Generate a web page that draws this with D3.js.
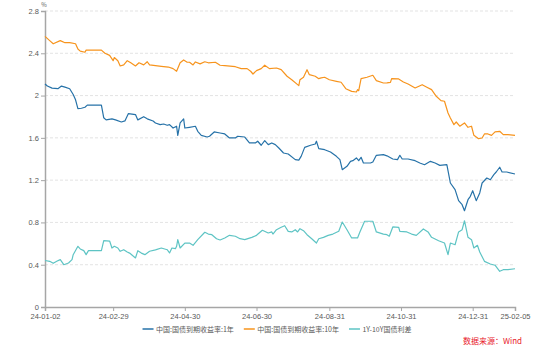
<!DOCTYPE html>
<html><head><meta charset="utf-8">
<script src="https://cdn.jsdelivr.net/npm/d3@7"></script>
<style>
html,body{margin:0;padding:0;background:#fff;}
svg{display:block;font-family:"Noto Sans CJK SC","Noto Sans",sans-serif;}
</style></head>
<body>
<svg id="c" width="550" height="346"></svg>
<script>
// ---- data ----
const seriesNames = ["中国:国债到期收益率:1年", "中国:国债到期收益率:10年", "1Y-10Y国债利差"];
const xTickLabels = ["2024-01-02","2024-02-29","2024-04-30","2024-06-30","2024-08-31","2024-10-31","2024-12-31","2025-02-05"];
const yTicks = [0, 0.4, 0.8, 1.2, 1.6, 2, 2.4, 2.8];

const yield1Y = [
["2024-01-02",2.11],["2024-01-04",2.09],["2024-01-08",2.07],["2024-01-13",2.065],["2024-01-16",2.09],
["2024-01-19",2.08],["2024-01-23",2.065],["2024-01-26",2.01],["2024-01-28",1.96],["2024-01-30",1.876],
["2024-02-02",1.88],["2024-02-05",1.89],["2024-02-07",1.91],["2024-02-19",1.91],["2024-02-21",1.79],
["2024-02-23",1.77],["2024-02-28",1.78],["2024-03-02",1.77],["2024-03-07",1.75],["2024-03-10",1.76],
["2024-03-13",1.83],["2024-03-19",1.82],["2024-03-21",1.77],["2024-03-26",1.80],["2024-03-29",1.78],
["2024-04-03",1.76],["2024-04-05",1.741],["2024-04-09",1.725],["2024-04-12",1.731],["2024-04-15",1.719],
["2024-04-17",1.725],["2024-04-20",1.693],["2024-04-23",1.71],["2024-04-24",1.624],["2024-04-26",1.741],
["2024-04-29",1.779],["2024-04-30",1.693],["2024-05-04",1.70],["2024-05-09",1.71],["2024-05-11",1.662],
["2024-05-14",1.624],["2024-05-19",1.608],["2024-05-21",1.615],["2024-05-25",1.656],["2024-05-30",1.646],
["2024-06-03",1.637],["2024-06-07",1.599],["2024-06-12",1.599],["2024-06-14",1.615],["2024-06-20",1.608],
["2024-06-24",1.552],["2024-06-29",1.552],["2024-07-01",1.568],["2024-07-04",1.53],["2024-07-07",1.573],
["2024-07-10",1.536],["2024-07-13",1.552],["2024-07-16",1.536],["2024-07-19",1.504],["2024-07-23",1.457],
["2024-07-27",1.447],["2024-08-02",1.394],["2024-08-05",1.39],["2024-08-07",1.425],["2024-08-10",1.51],
["2024-08-15",1.53],["2024-08-19",1.542],["2024-08-20",1.568],["2024-08-22",1.498],["2024-08-27",1.488],
["2024-09-01",1.466],["2024-09-06",1.425],["2024-09-09",1.394],["2024-09-11",1.299],["2024-09-15",1.331],
["2024-09-18",1.378],["2024-09-20",1.384],["2024-09-23",1.41],["2024-09-25",1.384],["2024-09-27",1.416],
["2024-09-29",1.362],["2024-10-05",1.362],["2024-10-07",1.372],["2024-10-10",1.435],["2024-10-16",1.441],
["2024-10-19",1.43],["2024-10-24",1.40],["2024-10-28",1.394],["2024-10-30",1.435],["2024-11-01",1.40],
["2024-11-06",1.40],["2024-11-12",1.384],["2024-11-16",1.362],["2024-11-20",1.346],["2024-11-25",1.378],
["2024-11-29",1.362],["2024-12-03",1.34],["2024-12-09",1.346],["2024-12-12",1.173],["2024-12-16",1.11],
["2024-12-19",1.006],["2024-12-22",0.968],["2024-12-24",0.911],["2024-12-27",1.015],["2024-12-29",1.047],
["2024-12-31",1.10],["2025-01-03",1.006],["2025-01-06",1.079],["2025-01-08",1.173],["2025-01-12",1.22],
["2025-01-15",1.204],["2025-01-18",1.252],["2025-01-20",1.277],["2025-01-23",1.322],["2025-01-25",1.277],
["2025-01-29",1.277],["2025-02-05",1.258]
];

const yield10Y = [
["2024-01-02",2.56],["2024-01-06",2.52],["2024-01-09",2.49],["2024-01-15",2.52],["2024-01-19",2.50],
["2024-01-23",2.50],["2024-01-28",2.49],["2024-01-30",2.44],["2024-02-01",2.42],["2024-02-05",2.41],
["2024-02-06",2.43],["2024-02-19",2.43],["2024-02-22",2.40],["2024-02-26",2.38],["2024-02-29",2.33],
["2024-03-01",2.36],["2024-03-04",2.33],["2024-03-06",2.28],["2024-03-09",2.29],["2024-03-12",2.33],
["2024-03-15",2.31],["2024-03-19",2.28],["2024-03-22",2.31],["2024-03-26",2.29],["2024-03-29",2.32],
["2024-03-31",2.29],["2024-04-05",2.283],["2024-04-10",2.277],["2024-04-16",2.27],["2024-04-20",2.255],
["2024-04-23",2.23],["2024-04-26",2.31],["2024-04-29",2.337],["2024-05-02",2.315],["2024-05-04",2.315],
["2024-05-07",2.29],["2024-05-09",2.318],["2024-05-13",2.30],["2024-05-17",2.32],["2024-05-20",2.31],
["2024-05-26",2.315],["2024-05-30",2.287],["2024-06-03",2.283],["2024-06-12",2.273],["2024-06-17",2.255],
["2024-06-22",2.255],["2024-06-25",2.23],["2024-06-27",2.204],["2024-06-30",2.236],["2024-07-04",2.255],
["2024-07-07",2.287],["2024-07-11",2.255],["2024-07-17",2.261],["2024-07-21",2.245],["2024-07-26",2.183],
["2024-07-30",2.15],["2024-08-05",2.094],["2024-08-06",2.15],["2024-08-09",2.173],["2024-08-12",2.245],
["2024-08-14",2.198],["2024-08-19",2.183],["2024-08-22",2.16],["2024-08-24",2.167],["2024-08-27",2.173],
["2024-08-31",2.15],["2024-09-06",2.135],["2024-09-10",2.126],["2024-09-14",2.065],["2024-09-19",2.04],
["2024-09-23",2.034],["2024-09-24",2.056],["2024-09-25",2.046],["2024-09-27",2.16],["2024-10-02",2.173],
["2024-10-07",2.192],["2024-10-10",2.141],["2024-10-16",2.119],["2024-10-19",2.12],["2024-10-22",2.125],
["2024-10-23",2.16],["2024-10-29",2.157],["2024-11-02",2.129],["2024-11-06",2.11],["2024-11-12",2.072],
["2024-11-18",2.103],["2024-11-22",2.079],["2024-11-26",2.056],["2024-11-30",1.993],["2024-12-04",1.952],
["2024-12-07",1.946],["2024-12-10",1.835],["2024-12-12",1.788],["2024-12-15",1.725],["2024-12-17",1.75],
["2024-12-20",1.71],["2024-12-24",1.741],["2024-12-27",1.70],["2024-12-30",1.71],["2025-01-01",1.624],
["2025-01-05",1.592],["2025-01-08",1.599],["2025-01-10",1.637],["2025-01-13",1.637],["2025-01-16",1.624],
["2025-01-19",1.656],["2025-01-23",1.662],["2025-01-26",1.63],["2025-01-30",1.63],["2025-02-05",1.624]
];

const spread = [
["2024-01-02",0.44],["2024-01-06",0.432],["2024-01-09",0.413],["2024-01-12",0.432],["2024-01-15",0.448],
["2024-01-18",0.40],["2024-01-22",0.416],["2024-01-25",0.448],["2024-01-26",0.495],["2024-01-30",0.574],
["2024-02-01",0.549],["2024-02-04",0.533],["2024-02-06",0.495],["2024-02-08",0.533],["2024-02-19",0.533],
["2024-02-21",0.627],["2024-02-26",0.624],["2024-02-28",0.558],["2024-03-01",0.574],["2024-03-04",0.558],
["2024-03-06",0.527],["2024-03-09",0.542],["2024-03-12",0.52],["2024-03-14",0.51],["2024-03-19",0.464],
["2024-03-21",0.533],["2024-03-24",0.51],["2024-03-27",0.495],["2024-03-31",0.527],["2024-04-05",0.54],
["2024-04-10",0.558],["2024-04-15",0.542],["2024-04-17",0.511],["2024-04-19",0.558],["2024-04-22",0.552],
["2024-04-23",0.574],["2024-04-24",0.637],["2024-04-26",0.558],["2024-04-30",0.605],["2024-05-04",0.605],
["2024-05-07",0.584],["2024-05-11",0.637],["2024-05-17",0.707],["2024-05-20",0.69],["2024-05-23",0.684],
["2024-05-27",0.646],["2024-05-30",0.634],["2024-06-03",0.653],["2024-06-07",0.678],["2024-06-12",0.669],
["2024-06-16",0.646],["2024-06-20",0.637],["2024-06-26",0.659],["2024-06-30",0.678],["2024-07-05",0.726],
["2024-07-10",0.70],["2024-07-13",0.71],["2024-07-14",0.69],["2024-07-17",0.731],["2024-07-21",0.754],
["2024-07-24",0.769],["2024-07-27",0.716],["2024-07-30",0.71],["2024-08-02",0.731],["2024-08-04",0.71],
["2024-08-06",0.741],["2024-08-09",0.722],["2024-08-12",0.684],["2024-08-16",0.646],["2024-08-20",0.605],
["2024-08-22",0.646],["2024-08-26",0.659],["2024-08-30",0.678],["2024-09-03",0.69],["2024-09-08",0.716],
["2024-09-11",0.804],["2024-09-15",0.731],["2024-09-19",0.653],["2024-09-24",0.653],["2024-09-26",0.71],
["2024-09-30",0.811],["2024-10-07",0.811],["2024-10-10",0.71],["2024-10-16",0.69],["2024-10-19",0.684],
["2024-10-21",0.67],["2024-10-24",0.757],["2024-10-29",0.754],["2024-10-30",0.716],["2024-11-05",0.71],
["2024-11-09",0.69],["2024-11-13",0.678],["2024-11-19",0.738],["2024-11-23",0.71],["2024-11-26",0.659],
["2024-12-02",0.627],["2024-12-07",0.605],["2024-12-10",0.495],["2024-12-12",0.605],["2024-12-16",0.589],
["2024-12-19",0.71],["2024-12-22",0.731],["2024-12-24",0.816],["2024-12-27",0.659],["2024-12-30",0.637],
["2025-01-01",0.558],["2025-01-04",0.584],["2025-01-06",0.52],["2025-01-10",0.432],["2025-01-15",0.407],
["2025-01-19",0.395],["2025-01-23",0.338],["2025-01-26",0.353],["2025-01-30",0.353],["2025-02-05",0.362]
];

// ---- drawing ----
const W = 550, H = 346;
const M = {left:45, right:35, top:11, bottom:39};
const parse = d3.timeParse("%Y-%m-%d");
const fmt = d3.timeFormat("%y-%m-%d");
const svg = d3.select("#c");

const x = d3.scaleTime()
  .domain([parse(xTickLabels[0]), parse(xTickLabels[xTickLabels.length-1])])
  .range([M.left, W - M.right]);
const y = d3.scaleLinear().domain([0, 2.8]).range([H - M.bottom, M.top]);

// gridlines
svg.append("g").selectAll("line").data(yTicks.filter(v => v > 0)).join("line")
  .attr("x1", M.left).attr("x2", W - M.right)
  .attr("y1", d => y(d)).attr("y2", d => y(d))
  .attr("stroke", "#dcdcdc").attr("stroke-width", 0.8).attr("stroke-dasharray", "3,2");

// y axis
const yAxis = svg.append("g").attr("transform", `translate(${M.left},0)`)
  .call(d3.axisLeft(y).tickValues(yTicks).tickSize(4).tickPadding(2).tickFormat(d3.format("~g")));
yAxis.select(".domain").attr("stroke", "#a6a6a6").attr("stroke-width", 1.5);
yAxis.selectAll(".tick line").attr("stroke", "#a6a6a6");
yAxis.selectAll("text").attr("fill", "#595959").style("font-size", "7.5px");

// x axis
const xAxis = svg.append("g").attr("transform", `translate(0,${H - M.bottom})`)
  .call(d3.axisBottom(x).tickValues(xTickLabels.map(parse)).tickSize(4).tickPadding(3).tickFormat(fmt));
xAxis.select(".domain").attr("stroke", "#a6a6a6").attr("stroke-width", 1.5);
xAxis.selectAll(".tick line").attr("stroke", "#a6a6a6");
xAxis.selectAll("text").attr("fill", "#595959").style("font-size", "7.5px");

// unit label
svg.append("text").attr("x", M.left - 1).attr("y", 7).attr("text-anchor", "middle")
  .attr("fill", "#595959").style("font-size", "6px").text("%");

const colors = ["#2672a8", "#f7941d", "#5ec4c4"];
const all = [yield1Y, yield10Y, spread];
const line = d3.line().x(d => x(parse(d[0]))).y(d => y(d[1]));
all.forEach((s, i) => {
  svg.append("path").datum(s).attr("d", line)
    .attr("fill", "none").attr("stroke", colors[i]).attr("stroke-width", 1.2)
    .attr("stroke-linejoin", "round");
});

// legend
const lg = svg.append("g");
let lx = 0;
seriesNames.forEach((n, i) => {
  const g = lg.append("g").attr("transform", `translate(${lx},0)`);
  g.append("line").attr("x1", 0).attr("x2", 11).attr("y1", 0).attr("y2", 0)
    .attr("stroke", colors[i]).attr("stroke-width", 1.5);
  const t = g.append("text").attr("x", 13.5).attr("y", 2.5).attr("fill", "#595959")
    .style("font-size", "7px").text(n);
  lx += 13.5 + t.node().getComputedTextLength() + 10;
});
const lw = lx - 10;
lg.attr("transform", `translate(${277 - lw/2},329)`);

// source
svg.append("text").attr("x", 522).attr("y", 344).attr("text-anchor", "end")
  .attr("fill", "#e8202a").style("font-size", "8px").text("数据来源：Wind");
</script>
</body></html>
